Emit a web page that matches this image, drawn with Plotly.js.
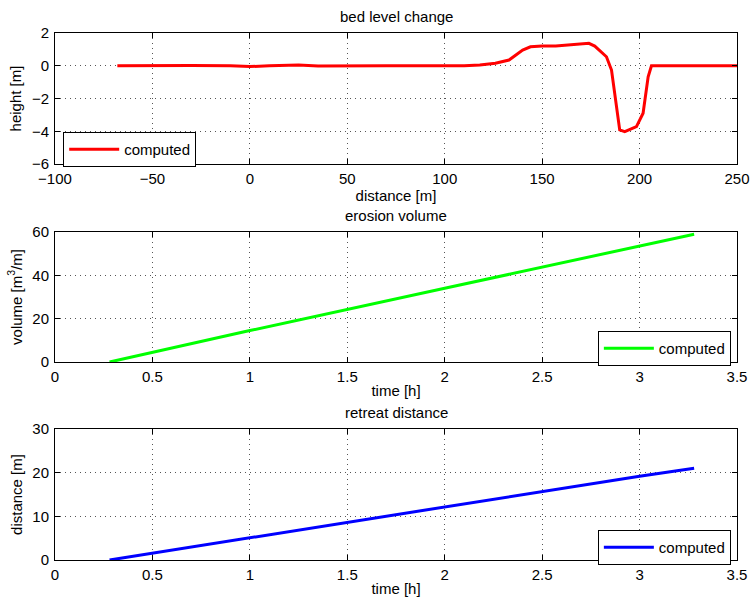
<!DOCTYPE html>
<html><head><meta charset="utf-8">
<script src="https://cdn.plot.ly/plotly-3.0.1.min.js"></script>
<style>body{margin:0;background:#fff}#c{width:750px;height:601px}</style>
</head><body><div id="c"></div>
<script>
// bed level change
const bedX = [-68, -50, -30, -10, 0, 10, 25, 35, 50, 70, 90, 110, 118, 126, 133, 140, 144, 150, 157, 165, 174, 177, 180, 183, 185.6, 188, 189.8, 192.4, 195, 198.4, 201.8, 203, 204.4, 206.1, 220, 250];
const bedY = [0, 0.02, 0.01, 0, -0.05, 0, 0.05, -0.02, 0, 0, 0, 0, 0.05, 0.15, 0.35, 0.96, 1.16, 1.2, 1.2, 1.28, 1.37, 1.2, 0.9, 0.55, -0.26, -2.2, -3.92, -4.02, -3.9, -3.72, -2.9, -1.8, -0.67, 0, 0, 0];
// erosion volume
const volT = [0.28, 1.0, 2.0, 3.0, 3.28];
const volV = [0, 14.5, 34, 53.5, 59];
// retreat distance
const retT = [0.28, 1.0, 2.0, 3.0, 3.28];
const retD = [0, 5.1, 12.2, 19.2, 21];

const FAM = 'Liberation Sans, Arial, sans-serif';
const axFont = {family: FAM, size: 15, color: '#000'};
function ax(extra) {
  return Object.assign({
    showline: true, linecolor: '#000', linewidth: 1, mirror: 'ticks',
    ticks: 'inside', ticklen: 5, tickcolor: '#000',
    showgrid: true, gridcolor: '#555', griddash: '1px,4px', gridwidth: 1,
    zeroline: false, tickfont: axFont
  }, extra);
}
const traces = [
  {x: bedX, y: bedY, type: 'scatter', mode: 'lines', name: 'computed', line: {color: '#ff0000', width: 3}, xaxis: 'x', yaxis: 'y', legend: 'legend'},
  {x: volT, y: volV, type: 'scatter', mode: 'lines', name: 'computed', line: {color: '#00ff00', width: 3}, xaxis: 'x2', yaxis: 'y2', legend: 'legend2'},
  {x: retT, y: retD, type: 'scatter', mode: 'lines', name: 'computed', line: {color: '#0000ff', width: 3}, xaxis: 'x3', yaxis: 'y3', legend: 'legend3'}
];
const legStyle = {bgcolor: '#fff', bordercolor: '#000', borderwidth: 1, itemwidth: 50, font: {family: FAM, size: 15, color: '#000'}, xref: 'paper', yref: 'paper'};
const layout = {
  width: 750, height: 601, paper_bgcolor: '#fff', plot_bgcolor: '#fff',
  margin: {l: 55, r: 13, t: 33, b: 41},
  showlegend: true,
  xaxis: ax({domain: [0, 1], range: [-100, 250], dtick: 50, anchor: 'y', ticklabelstandoff: 1, title: {text: 'distance [m]', standoff: 1, font: axFont}}),
  yaxis: ax({domain: [0.7514, 1], range: [-6, 2], dtick: 2, anchor: 'x', ticklabelstandoff: 2, title: {text: 'height [m]', standoff: 6, font: axFont}}),
  xaxis2: ax({domain: [0, 1], range: [0, 3.5], dtick: 0.5, anchor: 'y2', ticklabelstandoff: 1, title: {text: 'time [h]', standoff: 1, font: axFont}}),
  yaxis2: ax({domain: [0.3757, 0.6224], range: [0, 60], dtick: 20, anchor: 'x2', ticklabelstandoff: 2, title: {text: 'volume [m<sup>3</sup>/m]', standoff: 6, font: axFont}}),
  xaxis3: ax({domain: [0, 1], range: [0, 3.5], dtick: 0.5, anchor: 'y3', ticklabelstandoff: 1, title: {text: 'time [h]', standoff: 1, font: axFont}}),
  yaxis3: ax({domain: [0, 0.2486], range: [0, 30], dtick: 10, anchor: 'x3', ticklabelstandoff: 2, title: {text: 'distance [m]', standoff: 6, font: axFont}}),
  legend: Object.assign({x: 0.012, y: 0.812, xanchor: 'left', yanchor: 'top'}, legStyle),
  legend2: Object.assign({x: 0.991, y: 0.4345, xanchor: 'right', yanchor: 'top'}, legStyle),
  legend3: Object.assign({x: 0.991, y: 0.0569, xanchor: 'right', yanchor: 'top'}, legStyle),
  annotations: [
    {text: 'bed level change', xref: 'paper', yref: 'paper', x: 0.5, y: 1.0, yshift: 6, xanchor: 'center', yanchor: 'bottom', showarrow: false, font: axFont},
    {text: 'erosion volume', xref: 'paper', yref: 'paper', x: 0.5, y: 0.6224, yshift: 6, xanchor: 'center', yanchor: 'bottom', showarrow: false, font: axFont},
    {text: 'retreat distance', xref: 'paper', yref: 'paper', x: 0.5, y: 0.2486, yshift: 6, xanchor: 'center', yanchor: 'bottom', showarrow: false, font: axFont}
  ]
};
Plotly.newPlot('c', traces, layout, {displayModeBar: false, staticPlot: true});
</script></body></html>
